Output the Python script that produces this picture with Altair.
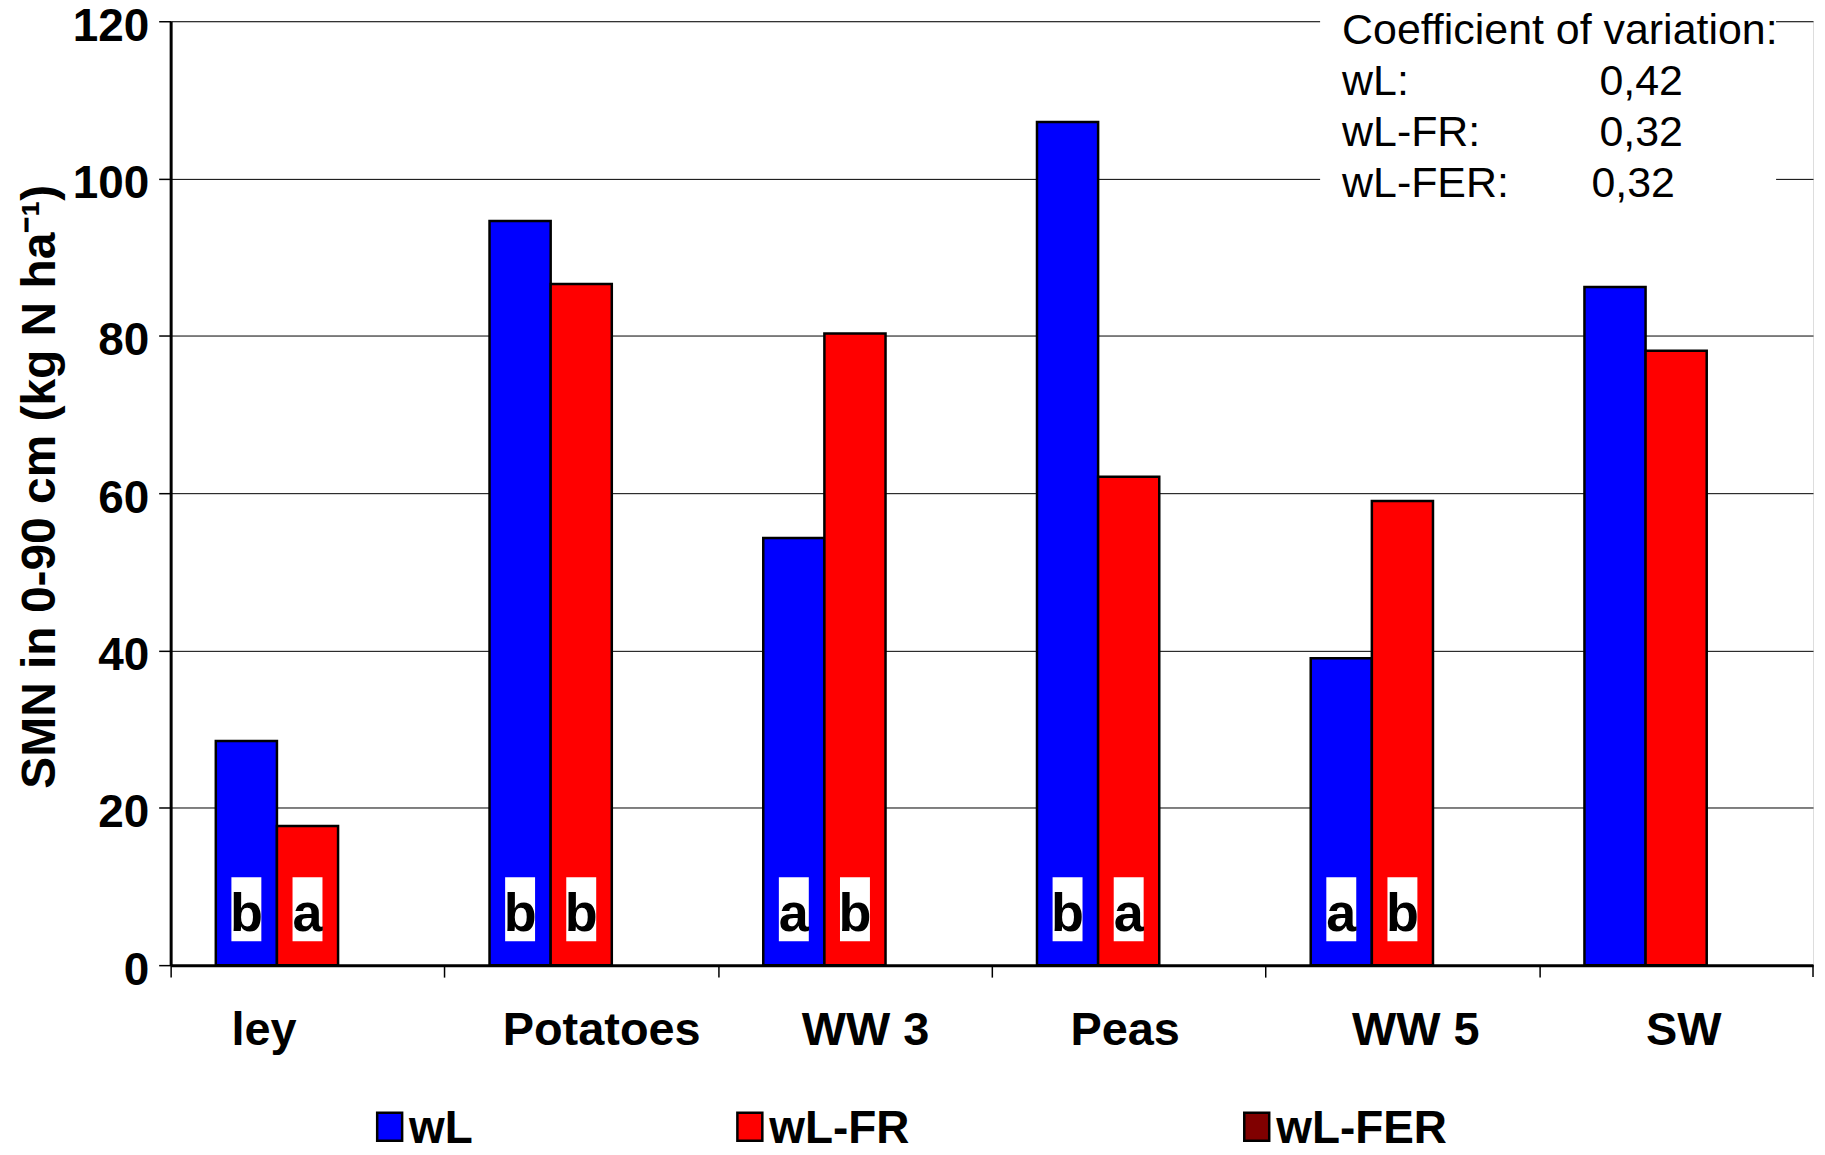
import altair as alt
import pandas as pd

# ---- data ----
categories = ["ley", "Potatoes", "WW 3", "Peas", "WW 5", "SW"]
series = ["wL", "wL-FR", "wL-FER"]
colors = ["#0000FF", "#FF0000", "#800000"]
smn_wL = [28.5, 94.6, 54.3, 107.2, 39.0, 86.2]
smn_wL_FR = [17.7, 86.6, 80.3, 62.1, 59.0, 78.1]
letters_wL = ["b", "b", "a", "b", "a", ""]
letters_wL_FR = ["a", "b", "b", "a", "b", ""]
y_ticks = [0, 20, 40, 60, 80, 100, 120]
cv_title = "Coefficient of variation:"
cv_labels = ["wL:", "wL-FR:", "wL-FER:"]
cv_values = ["0,42", "0,32", "0,32"]

rows = []
for i, c in enumerate(categories):
    rows.append({"crop": c, "treatment": "wL", "smn": smn_wL[i], "letter": letters_wL[i]})
    rows.append({"crop": c, "treatment": "wL-FR", "smn": smn_wL_FR[i], "letter": letters_wL_FR[i]})
df = pd.DataFrame(rows)
df_letters = df[df["letter"] != ""]
one = pd.DataFrame({"k": [0]})

FONT = "Liberation Sans"
W, H = 1646, 946
STEP = W / len(categories)

# per-label horizontal nudges (layout only)
label_nudge = {"ley": -44, "Potatoes": 20, "WW 3": 10, "Peas": -4, "WW 5": 13, "SW": 7}
label_offset = {
    "condition": [{"test": f"datum.value === '{k}'", "value": STEP / 2 + v} for k, v in label_nudge.items()],
    "value": STEP / 2,
}

x_enc = alt.X(
    "crop:N",
    sort=categories,
    scale=alt.Scale(domain=categories, paddingInner=0.33, paddingOuter=0.165),
    axis=alt.Axis(
        title=None, labelAngle=0, labelFont=FONT, labelFontSize=47, labelLimit=0,
        labelFontWeight="bold", labelColor="black", labelPadding=31,
        tickSize=12, tickOffset=-STEP / 2, tickColor="black", tickWidth=1.5,
        domainColor="black", domainWidth=3,
        labelOffset=label_offset,
    ),
)
xoff_enc = alt.XOffset("treatment:N", scale=alt.Scale(domain=series, paddingInner=0, paddingOuter=0))
y_enc = alt.Y(
    "smn:Q",
    scale=alt.Scale(domain=[0, 120], nice=False),
    axis=alt.Axis(
        title="SMN in 0-90 cm (kg N ha⁻¹)", values=y_ticks,
        labelFont=FONT, labelFontSize=46, labelFontWeight="bold", labelColor="black",
        labelPadding=10, labelOffset=5, tickSize=12, tickColor="black", tickWidth=1.5,
        domainColor="black", domainWidth=3,
        grid=True, gridColor="black", gridWidth=1,
        titleFont=FONT, titleFontSize=48, titleFontWeight="bold", titleColor="black",
        titleX=-116, titleY=466, titleAlign="center", titleBaseline="alphabetic",
    ),
)

bars = alt.Chart(df).mark_bar(stroke="black", strokeWidth=2.5).encode(
    x=x_enc, xOffset=xoff_enc, y=y_enc,
    color=alt.Color("treatment:N", scale=alt.Scale(domain=series, range=colors), legend=None),
)

boxes = alt.Chart(df_letters).mark_bar(width=30, fill="white", stroke=None).encode(
    x=alt.X("crop:N", sort=categories), xOffset=alt.XOffset("treatment:N"),
    y=alt.value(858), y2=alt.value(922),
)
letters = alt.Chart(df_letters).mark_text(
    font=FONT, fontSize=54, fontWeight="bold", color="black", baseline="alphabetic", align="center"
).encode(
    x=alt.X("crop:N", sort=categories), xOffset=alt.XOffset("treatment:N"),
    y=alt.value(912), text="letter:N",
)

# right-hand end tick of the category axis
end_tick = alt.Chart(one).mark_rule(color="black", strokeWidth=1.5).encode(
    x=alt.value(W), y=alt.value(H), y2=alt.value(H + 12))

layers = [bars, boxes, letters, end_tick]

# coefficient-of-variation box
layers.append(alt.Chart(one).mark_rect(fill="white").encode(
    x=alt.value(1152), x2=alt.value(1609), y=alt.value(-20), y2=alt.value(185)))
line_h = 51
layers.append(alt.Chart(one).mark_text(font=FONT, fontSize=43, align="left", baseline="alphabetic", color="black").encode(
    x=alt.value(1174), y=alt.value(23), text=alt.value(cv_title)))
val_x = [1432, 1432, 1424]
for i, (lab, val) in enumerate(zip(cv_labels, cv_values)):
    yy = 23 + line_h * (i + 1)
    layers.append(alt.Chart(one).mark_text(font=FONT, fontSize=43, align="left", baseline="alphabetic", color="black").encode(
        x=alt.value(1174), y=alt.value(yy), text=alt.value(lab)))
    layers.append(alt.Chart(one).mark_text(font=FONT, fontSize=43, align="left", baseline="alphabetic", color="black").encode(
        x=alt.value(val_x[i]), y=alt.value(yy), text=alt.value(val)))

# legend (drawn manually to match uneven spacing)
leg_x = [207, 568, 1076]
for i, s in enumerate(series):
    layers.append(alt.Chart(one).mark_rect(fill=colors[i], stroke="black", strokeWidth=2.5).encode(
        x=alt.value(leg_x[i]), x2=alt.value(leg_x[i] + 25), y=alt.value(1094), y2=alt.value(1122)))
    layers.append(alt.Chart(one).mark_text(font=FONT, fontSize=46, fontWeight="bold", align="left",
                                           baseline="alphabetic", color="black").encode(
        x=alt.value(leg_x[i] + 32), y=alt.value(1124), text=alt.value(s)))

chart = alt.layer(*layers).properties(
    width=W, height=H, autosize="none",
    padding={"left": 163, "top": 12, "right": 4, "bottom": 179},
).configure_view(stroke="black", strokeWidth=2.5).configure(background="white")

chart.save("out.html", embed_options={"renderer": "svg", "actions": False})
